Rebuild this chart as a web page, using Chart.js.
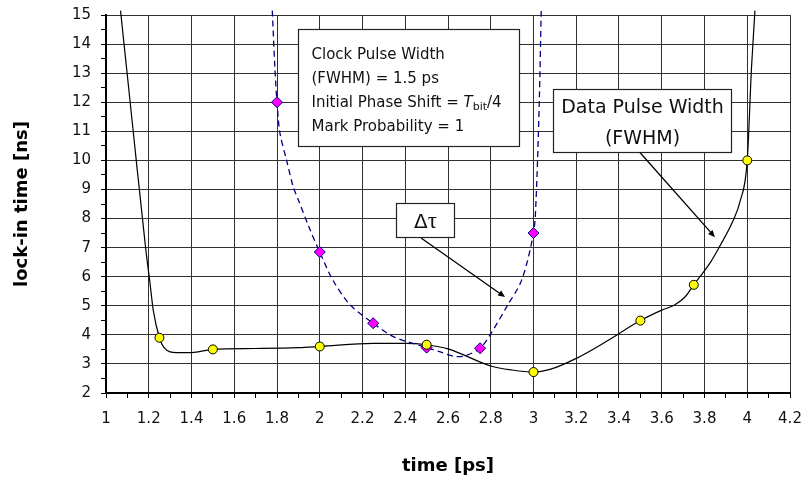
<!DOCTYPE html>
<html>
<head>
<meta charset="utf-8">
<script src="https://cdn.jsdelivr.net/npm/chart.js@4.4.1/dist/chart.umd.min.js"></script>
<style>
  html, body { margin: 0; padding: 0; background: #fff; }
  #lockChart { display: block; }
</style>
</head>
<body>
<canvas id="lockChart" width="805" height="482"></canvas>
<script>
/* --- Tick labels --- */
const xTickLabels = ['1', '1.2', '1.4', '1.6', '1.8', '2', '2.2', '2.4', '2.6', '2.8',
                     '3', '3.2', '3.4', '3.6', '3.8', '4', '4.2'];
const yTickLabels = ['2', '3', '4', '5', '6', '7', '8', '9', '10', '11', '12', '13', '14', '15'];

/* --- Simulated points --- */
// data pulse width (FWHM)
const pulseX = [1.25, 1.5, 2, 2.5, 3, 3.5, 3.75, 4];
const pulseY = [3.9, 3.5, 3.6, 3.66, 2.72, 4.49, 5.72, 10];
// delta tau
const tauX = [1.8, 2, 2.25, 2.5, 2.75, 3];
const tauY = [12, 6.85, 4.4, 3.56, 3.54, 7.5];

/* --- Smoothed curves --- */
const pulseCurveX = [1.068, 1.128, 1.186, 1.206, 1.221, 1.25, 1.27, 1.33, 1.4, 1.5, 1.7, 1.9,
                     2, 2.25, 2.4, 2.5, 2.6, 2.8, 2.9, 3, 3.077, 3.2, 3.34, 3.5, 3.6, 3.66,
                     3.71, 3.75, 3.83, 3.87, 3.935, 3.966, 4, 4.02, 4.036];
const pulseCurveY = [15.15, 10.95, 6.95, 5.77, 4.85, 3.9, 3.58, 3.39, 3.39, 3.5, 3.53, 3.56,
                     3.6, 3.71, 3.71, 3.66, 3.52, 2.93, 2.79, 2.72, 2.81, 3.19, 3.77, 4.49, 4.85, 5.03,
                     5.31, 5.72, 6.52, 7.03, 7.95, 8.58, 10, 13.2, 15.15];
const tauCurveX = [1.778, 1.79, 1.8, 1.814, 1.845, 1.876, 1.9, 1.95, 2, 2.06, 2.14, 2.25, 2.344,
                   2.5, 2.56, 2.63, 2.68, 2.75, 2.796, 2.875, 2.945, 3, 3.012, 3.027, 3.036];
const tauCurveY = [15.15, 13.2, 12, 10.93, 10, 9.09, 8.64, 7.7, 6.85, 5.9, 5.05, 4.4, 3.94,
                   3.56, 3.42, 3.26, 3.28, 3.54, 3.99, 4.97, 5.89, 7.5, 8.64, 12, 15.15];

const FONT = 'DejaVu Sans';
const GRID = '#303030';

const toPoints = (xs, ys) => xs.map((x, i) => ({ x, y: ys[i] }));
const onStep = (v, step) => Math.abs(v / step - Math.round(v / step)) < 1e-6;

/* --- Text boxes and arrows (data units) --- */
const notes = {
    clock: { x0: 1.898, x1: 2.932, y0: 14.52, y1: 10.49 },
    pulse: { x0: 3.091, x1: 3.924, y0: 12.45, y1: 10.29 },
    tau:   { x0: 2.357, x1: 2.628, y0: 8.53, y1: 7.36 },
    arrows: [
        { from: [2.474, 7.33], to: [2.867, 5.3] },
        { from: [3.498, 10.27], to: [3.849, 7.36] }
    ]
};

function drawBox(ctx, x, y, b) {
    const l = Math.round(x.getPixelForValue(b.x0)) + 0.5;
    const r = Math.round(x.getPixelForValue(b.x1)) + 0.5;
    const t = Math.round(y.getPixelForValue(b.y0)) + 0.5;
    const btm = Math.round(y.getPixelForValue(b.y1)) + 0.5;
    ctx.fillStyle = '#fff';
    ctx.fillRect(l, t, r - l, btm - t);
    ctx.strokeStyle = '#222';
    ctx.lineWidth = 1.2;
    ctx.strokeRect(l, t, r - l, btm - t);
    ctx.fillStyle = '#111';
    return { l, r, t, b: btm, cx: (l + r) / 2 };
}

function drawArrow(ctx, x1, y1, x2, y2) {
    const ang = Math.atan2(y2 - y1, x2 - x1);
    const cos = Math.cos(ang), sin = Math.sin(ang);
    ctx.strokeStyle = '#000';
    ctx.lineWidth = 1.3;
    ctx.beginPath();
    ctx.moveTo(x1, y1);
    ctx.lineTo(x2 - 5 * cos, y2 - 5 * sin);
    ctx.stroke();
    ctx.fillStyle = '#000';
    ctx.beginPath();
    ctx.moveTo(x2, y2);
    ctx.lineTo(x2 - 7 * cos + 3 * sin, y2 - 7 * sin - 3 * cos);
    ctx.lineTo(x2 - 7 * cos - 3 * sin, y2 - 7 * sin + 3 * cos);
    ctx.closePath();
    ctx.fill();
}

const notesPlugin = {
    id: 'notes',
    afterDatasetsDraw(chart) {
        const { ctx, scales: { x, y } } = chart;
        ctx.save();

        notes.arrows.forEach(a => {
            drawArrow(ctx,
                x.getPixelForValue(a.from[0]), y.getPixelForValue(a.from[1]),
                x.getPixelForValue(a.to[0]), y.getPixelForValue(a.to[1]));
        });

        ctx.textBaseline = 'alphabetic';

        // simulation settings
        const c = drawBox(ctx, x, y, notes.clock);
        ctx.textAlign = 'left';
        ctx.font = `15px "${FONT}"`;
        const tx = c.l + 13;
        ctx.fillText('Clock Pulse Width', tx, c.t + 29);
        ctx.fillText('(FWHM) = 1.5 ps', tx, c.t + 53);
        let cx = tx;
        const pre = 'Initial Phase Shift = ';
        ctx.fillText(pre, cx, c.t + 77);
        cx += ctx.measureText(pre).width;
        ctx.font = `italic 15px "${FONT}"`;
        ctx.fillText('T', cx, c.t + 77);
        cx += ctx.measureText('T').width;
        ctx.font = `11px "${FONT}"`;
        ctx.fillText('bit', cx, c.t + 80);
        cx += ctx.measureText('bit').width;
        ctx.font = `15px "${FONT}"`;
        ctx.fillText('/4', cx, c.t + 77);
        ctx.fillText('Mark Probability = 1', tx, c.t + 101);

        // curve labels
        const p = drawBox(ctx, x, y, notes.pulse);
        ctx.textAlign = 'center';
        ctx.font = `19px "${FONT}"`;
        ctx.fillText('Data Pulse Width', p.cx, p.t + 23);
        ctx.fillText('(FWHM)', p.cx, p.t + 54);

        // delta tau: sans delta, serif tau
        const d = drawBox(ctx, x, y, notes.tau);
        ctx.textAlign = 'left';
        ctx.font = `20px "${FONT}"`;
        const dw = ctx.measureText('\u0394').width;
        ctx.font = '23px "Liberation Serif"';
        const tw = ctx.measureText('\u03C4').width;
        const sx = d.cx - (dw + tw) / 2;
        ctx.font = `20px "${FONT}"`;
        ctx.fillText('\u0394', sx, d.t + 24);
        ctx.font = '23px "Liberation Serif"';
        ctx.fillText('\u03C4', sx + dw, d.t + 24);

        ctx.restore();
    }
};

/* --- Chart.js Setup --- */
new Chart(document.getElementById('lockChart'), {
    type: 'scatter',
    data: {
        datasets: [
            {
                label: 'Data Pulse Width curve',
                data: toPoints(pulseCurveX, pulseCurveY),
                showLine: true,
                pointRadius: 0,
                borderColor: '#000',
                borderWidth: 1.2,
                cubicInterpolationMode: 'monotone',
                clip: false,
                order: 4
            },
            {
                label: 'Delta tau curve',
                data: toPoints(tauCurveX, tauCurveY),
                showLine: true,
                pointRadius: 0,
                borderColor: '#000080',
                borderWidth: 1.3,
                borderDash: [6, 4],
                tension: 0.3,
                clip: false,
                order: 3
            },
            {
                label: 'Delta tau',
                data: toPoints(tauX, tauY),
                pointStyle: 'rectRot',
                pointRadius: 5.5,
                backgroundColor: '#ff00ff',
                borderColor: '#000080',
                borderWidth: 1,
                order: 2
            },
            {
                label: 'Data Pulse Width',
                data: toPoints(pulseX, pulseY),
                pointStyle: 'circle',
                pointRadius: 4.5,
                backgroundColor: '#ffff00',
                borderColor: '#000',
                borderWidth: 1,
                order: 1
            }
        ]
    },
    options: {
        responsive: false,
        devicePixelRatio: 1,
        animation: false,
        layout: { padding: { top: 15, right: 15, left: 0, bottom: 0 } },
        plugins: { legend: { display: false }, tooltip: { enabled: false } },
        scales: {
            x: {
                type: 'linear',
                min: 1,
                max: 4.2,
                afterFit: (s) => { s.height = 89; s.paddingLeft = 0; s.paddingRight = 0; },
                ticks: {
                    stepSize: 0.1,
                    maxTicksLimit: 60,
                    autoSkip: false,
                    maxRotation: 0,
                    minRotation: 0,
                    padding: 12,
                    color: '#111',
                    font: { family: FONT, size: 15 },
                    callback: (v) => onStep(v - 1, 0.2) ? xTickLabels[Math.round((v - 1) / 0.2)] : ''
                },
                grid: {
                    color: (c) => (c.tick && onStep(c.tick.value - 1, 0.2)) ? GRID : 'rgba(0,0,0,0)',
                    tickColor: '#000',
                    tickLength: 5,
                    lineWidth: 1
                },
                border: { display: true, color: '#000', width: 2 },
                title: {
                    display: true,
                    text: 'time [ps]',
                    color: '#000',
                    font: { family: FONT, size: 18, weight: 'bold' },
                    padding: { top: 0, bottom: 5 }
                }
            },
            y: {
                type: 'linear',
                min: 2,
                max: 15,
                afterFit: (s) => { s.width = 106; s.paddingTop = 0; s.paddingBottom = 0; },
                ticks: {
                    stepSize: 0.5,
                    maxTicksLimit: 60,
                    autoSkip: false,
                    padding: 10,
                    color: '#111',
                    font: { family: FONT, size: 15 },
                    callback: (v) => onStep(v, 1) ? yTickLabels[Math.round(v - 2)] : ''
                },
                grid: {
                    color: (c) => (c.tick && onStep(c.tick.value, 1)) ? GRID : 'rgba(0,0,0,0)',
                    tickColor: '#000',
                    tickLength: 5,
                    lineWidth: 1
                },
                border: { display: true, color: '#000', width: 2 },
                title: {
                    display: true,
                    text: 'lock-in time [ns]',
                    color: '#000',
                    font: { family: FONT, size: 18, weight: 'bold' },
                    padding: { top: 12, bottom: 0 }
                }
            }
        }
    },
    plugins: [notesPlugin]
});
</script>
</body>
</html>
